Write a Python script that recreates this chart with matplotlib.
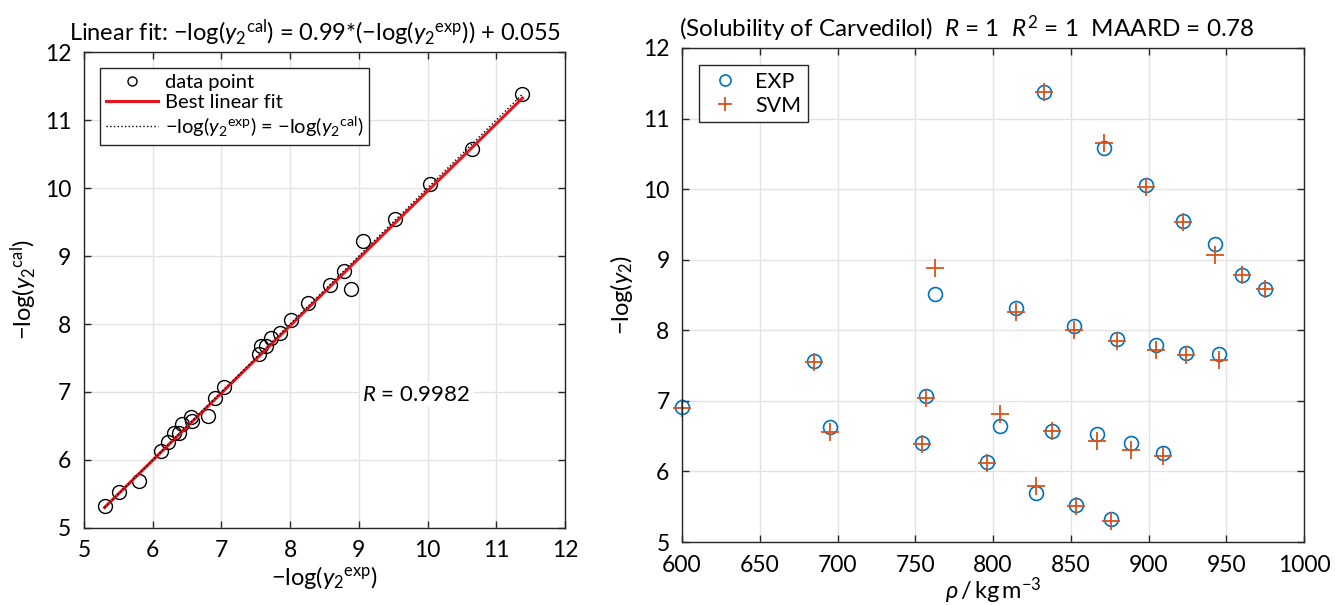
import numpy as np
import matplotlib
matplotlib.use('Agg')
import matplotlib.pyplot as plt

#fonts: Lato for text and mathtext
plt.rcParams['font.family'] = ['Lato', 'DejaVu Sans']
plt.rcParams['mathtext.fontset'] = 'custom'
plt.rcParams['mathtext.rm'] = 'Lato'
plt.rcParams['mathtext.it'] = 'Lato:italic'
plt.rcParams['mathtext.bf'] = 'Lato:bold'

#data
density = [600, 684.6, 694.9, 754, 756.7, 762.5, 795.9, 804.5, 815, 827.9,
           838.2, 851.9, 853.6, 866.7, 876, 879.8, 889, 904.6, 909.3, 832.6,
           871.2, 898.2, 922.2, 942.6, 960.2, 974.8, 924, 945.2]
exp_vals = [6.91, 7.56, 6.63, 6.40, 7.07, 8.52, 6.13, 6.65, 8.31, 5.69,
            6.58, 8.06, 5.53, 6.53, 5.33, 7.87, 6.40, 7.79, 6.26, 11.38,
            10.58, 10.06, 9.55, 9.22, 8.78, 8.58, 7.68, 7.67]
svm_vals = [6.90, 7.55, 6.56, 6.39, 7.04, 8.88, 6.12, 6.81, 8.26, 5.80,
            6.57, 8.01, 5.51, 6.43, 5.30, 7.85, 6.31, 7.72, 6.22, 11.38,
            10.65, 10.03, 9.53, 9.06, 8.78, 8.58, 7.65, 7.58]

fit_slope = 0.99
fit_intercept = 0.055
r_value = 0.9982

left_ticks = [5, 6, 7, 8, 9, 10, 11, 12]
right_xticks = [600, 650, 700, 750, 800, 850, 900, 950, 1000]
right_yticks = [5, 6, 7, 8, 9, 10, 11, 12]

blue = '#0072BD'
orange = '#D95319'
spine_col = '#262626'
grid_col = '#e3e3e3'

#y_2 with the superscript set after the subscript, as the tex interpreter does
y2cal = r'y_2{}^{\rm cal}'
y2exp = r'y_2{}^{\rm exp}'


def matlab_style(ax):
    """box on, ticks inside on all sides, light grid"""
    ax.grid(True, color=grid_col, linewidth=1)
    ax.set_axisbelow(True)
    ax.tick_params(direction='in', top=True, right=True, length=5,
                   width=1, color=spine_col, labelsize=16.5, pad=9)
    for s in ax.spines.values():
        s.set_color(spine_col)
        s.set_linewidth(1)


fig = plt.figure(figsize=(13.35, 6.05), dpi=100)

#left panel: parity plot
ax1 = fig.add_axes([0.0629, 0.1273, 0.3603, 0.7867])
x = np.array(svm_vals)
y = np.array(exp_vals)
ax1.plot(x, y, 'o', mfc='none', mec='black', ms=10, mew=1, label='data point')
xs = np.array([x.min(), x.max()])
ax1.plot(xs, fit_slope * xs + fit_intercept, color='#e8141c', lw=2.2,
         label='Best linear fit')
ax1.plot(xs, xs, ':', color='black', lw=1,
         label=r'$-\log(%s)$ = $-\log(%s)$' % (y2exp, y2cal))
ax1.set_xlim(5, 12)
ax1.set_ylim(5, 12)
ax1.set_xticks(left_ticks)
ax1.set_yticks(left_ticks)
matlab_style(ax1)
ax1.text(9.05, 6.96, r'$R$ = ' + str(r_value), fontsize=16, va='center',
         bbox=dict(facecolor='white', edgecolor='none', pad=2))
ax1.set_title(r'Linear fit: $-\log(%s)$ = 0.99*($-\log(%s)$) + 0.055' % (y2cal, y2exp),
              fontsize=17, pad=8, x=0.48)
ax1.set_xlabel(r'$-\log(%s)$' % y2exp, fontsize=17, labelpad=2)
ax1.set_ylabel(r'$-\log(%s)$' % y2cal, fontsize=17, labelpad=4)
leg1 = ax1.legend(loc='upper left', fontsize=14.5, fancybox=False,
                  framealpha=1, edgecolor=spine_col, handlelength=2.6,
                  borderpad=0.3, labelspacing=0.15, handletextpad=0.3,
                  borderaxespad=0.8, markerscale=0.65)
leg1.get_frame().set_linewidth(1)

#right panel: solubility vs density
ax2 = fig.add_axes([0.5109, 0.1041, 0.4659, 0.8166])
ax2.plot(density, exp_vals, 'o', mfc='none', mec=blue, ms=10, mew=1.2,
         label='EXP', clip_on=False)
ax2.plot(density, svm_vals, '+', color=orange, ms=13, mew=1.3, label='SVM',
         clip_on=False)
ax2.set_xlim(600, 1000)
ax2.set_ylim(5, 12)
ax2.set_xticks(right_xticks)
ax2.set_yticks(right_yticks)
matlab_style(ax2)
ax2.set_title(r'(Solubility of Carvedilol)  $R$ = 1  $R^2$ = 1  MAARD = 0.78',
              fontsize=17.5, pad=8, loc='left', x=-0.005)
ax2.set_xlabel(r'$\rho\,/\,\mathrm{kg\,m^{-3}}$', fontsize=17, labelpad=0)
ax2.set_ylabel(r'$-\log(y_2)$', fontsize=17, labelpad=6)
leg2 = ax2.legend(loc='upper left', fontsize=15.5, fancybox=False,
                  framealpha=1, edgecolor=spine_col, handlelength=1.8,
                  borderpad=0.3, labelspacing=0.2, handletextpad=0.5,
                  borderaxespad=0.8, markerscale=0.8)
leg2.get_frame().set_linewidth(1)

fig.savefig('out.png', dpi=100)
